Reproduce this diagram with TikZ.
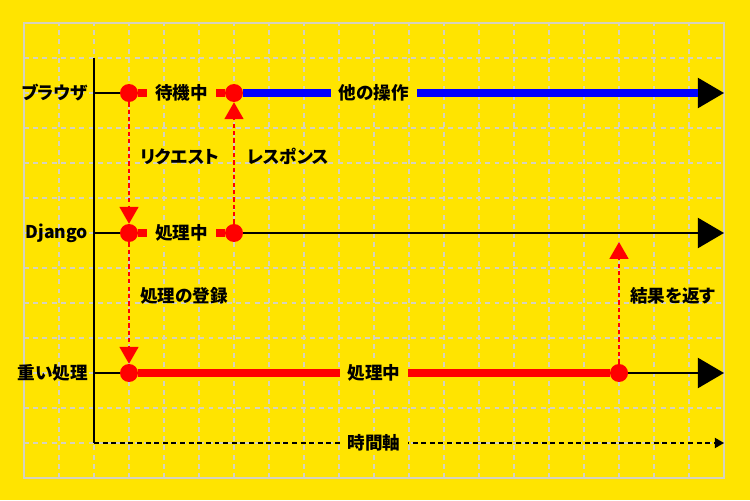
\documentclass[tikz,border=0pt]{standalone}
\usepackage{fontspec}
\setmainfont{Noto Sans CJK JP}[RawFeature=+palt]
\usetikzlibrary{arrows.meta}
\definecolor{bgyellow}{RGB}{255,228,0}
\definecolor{gridgray}{RGB}{214,210,188}
\tikzset{%
  % Specifications for style of lines:
        gridline/.style = {gridgray, line width=1pt, dash pattern=on 4pt off 3.5pt},
       gridframe/.style = {gridgray, line width=1.6pt},
        timeaxis/.style = {line width=2.2pt},
            lane/.style = {line width=2pt, -{Triangle[length=0.75cm,width=0.86cm]}},
            busy/.style = {red, line width=5.7pt},
           other/.style = {blue, line width=5.7pt},
             msg/.style = {red, line width=1.2pt, dash pattern=on 3.5pt off 2.5pt,
                           -{Triangle[length=0.48cm,width=0.54cm]}},
        timeline/.style = {line width=1.1pt, dash pattern=on 4pt off 3pt,
                           -{Triangle[length=0.26cm,width=0.29cm]}},
  % Specifications for style of nodes:
            base/.style = {font=\bfseries\fontsize{14.3pt}{16pt}\selectfont},
       lanelabel/.style = {base, anchor=east, inner xsep=4.6pt},
             dot/.style = {circle, fill=red, minimum size=0.514cm, inner sep=0pt},
           state/.style = {base, fill=bgyellow, inner xsep=6.5pt},
        msglabel/.style = {base, anchor=west, inner sep=0pt},
}
\begin{document}
\begin{tikzpicture}[x=1cm, y=1cm]
  % Background and grid
  \fill[bgyellow] (-0.6857,-0.6286) rectangle (20.7429,13.6571);
  \useasboundingbox (-0.6857,-0.6286) rectangle (20.7429,13.6571);
  \draw[gridline] (0,0) grid (20,13);
  \draw[gridframe] (0,0) rectangle (20,13);
  % Axis and lanes
  \coordinate (axisTop) at (2,12);
  \coordinate (origin)  at (2,1);
  \draw[timeaxis] (axisTop) -- (origin);
  \node (browser) [lanelabel] at (2,11) {ブラウザ};
  \node (django)  [lanelabel] at (2,7)  {Django};
  \node (heavy)   [lanelabel] at (2,3)  {重い処理};
  \coordinate (bEnd) at (20,11);
  \coordinate (dEnd) at (20,7);
  \coordinate (hEnd) at (20,3);
  \coordinate (tEnd) at (20,1);
  \draw[lane] (browser.east) -- (bEnd);
  \draw[lane] (django.east)  -- (dEnd);
  \draw[lane] (heavy.east)   -- (hEnd);
  \draw[timeline] (origin) -- (tEnd);
  % Specification of events on the lanes
  \node (b1) [dot] at (3,11) {};
  \node (b2) [dot] at (6,11) {};
  \node (d1) [dot] at (3,7)  {};
  \node (d2) [dot] at (6,7)  {};
  \node (h1) [dot] at (3,3)  {};
  \node (h2) [dot] at (17,3) {};
  \coordinate (dRet) at (17,7);
  % Busy and free periods
  \draw[busy]  (b1) -- (b2);
  \draw[busy]  (d1) -- (d2);
  \draw[busy]  (h1) -- (h2);
  \draw[other, shorten >=0.75cm] (b2) -- (bEnd);
  % Messages between lanes
  \draw[msg] (b1) -- (d1);
  \draw[msg] (d2) -- (b2);
  \draw[msg] (d1) -- (h1);
  \draw[msg, shorten >=0.257cm] (h2) -- (dRet);
  % Labels
  \node (wait)    [state] at (4.5,11) {待機中};
  \node (otherOp) [state] at (10,11)  {他の操作};
  \node (dWork)   [state] at (4.5,7)  {処理中};
  \node (hWork)   [state] at (10,3)   {処理中};
  \node (time)    [state] at (10,1)   {時間軸};
  \node (request)  [msglabel] at (3.31,9.18)  {リクエスト};
  \node (response) [msglabel] at (6.36,9.18)  {レスポンス};
  \node (enqueue)  [msglabel] at (3.31,5.2)   {処理の登録};
  \node (result)   [msglabel] at (17.31,5.2)  {結果を返す};
\end{tikzpicture}
\end{document}
